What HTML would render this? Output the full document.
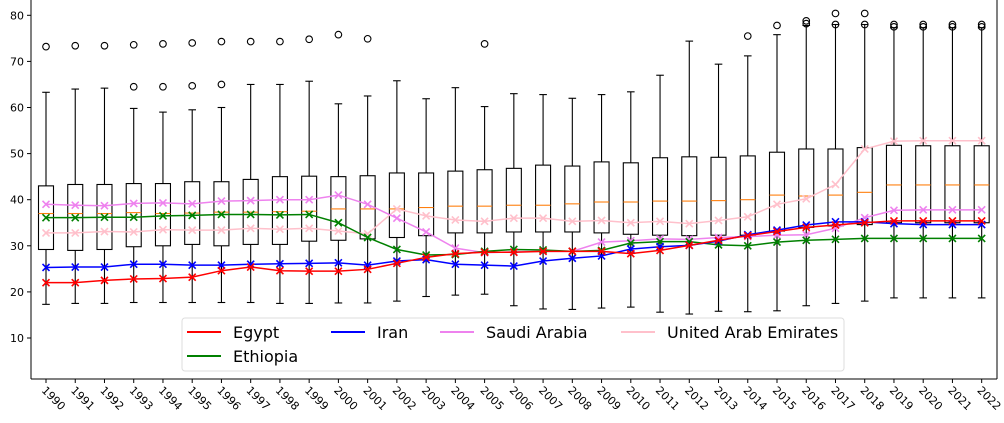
<!DOCTYPE html>
<html><head><meta charset="utf-8"><style>
html,body{margin:0;padding:0;background:#fff;}
svg{display:block;font-family:"DejaVu Sans","Liberation Sans",sans-serif;}
</style></head><body>
<svg id="chart" width="1004" height="423" viewBox="0 0 1004 423"></svg>
<script>
const years=[1990,1991,1992,1993,1994,1995,1996,1997,1998,1999,2000,2001,2002,2003,2004,2005,2006,2007,2008,2009,2010,2011,2012,2013,2014,2015,2016,2017,2018,2019,2020,2021,2022];
const boxQ1=[29.2,29,29.2,29.8,30,30.3,30,30.3,30.3,31,31.2,31.5,31.8,32.2,32.8,32.8,33,33,33,32.8,32.5,32.3,32.2,32.3,32.3,33.2,34,34.3,34.6,35,35,35,35];
const boxMed=[37,37,37,37.2,37,37.1,37.3,37.3,37.4,37.5,38,38,38,38.3,38.6,38.6,38.8,38.8,39.1,39.5,39.5,39.7,39.7,39.8,40,41,40.8,41,41.6,43.2,43.2,43.2,43.2];
const boxQ3=[43,43.3,43.3,43.5,43.5,43.9,43.9,44.4,45,45.1,45,45.2,45.8,45.8,46.2,46.5,46.8,47.5,47.3,48.2,48,49.1,49.3,49.2,49.5,50.3,51,51,51.3,51.8,51.7,51.7,51.7];
const boxLo=[17.3,17.5,17.5,17.7,17.7,17.7,17.7,17.7,17.5,17.5,17.6,17.6,18,19,19.3,19.5,17,16.3,16.2,16.5,16.7,15.6,15.2,15.8,15.7,15.9,17,17.5,18,18.7,18.7,18.7,18.7];
const boxHi=[63.3,64,64.2,59.8,59,59.5,60,65,65,65.7,60.8,62.5,65.8,61.9,64.3,60.2,63,62.8,62,62.8,63.4,67,74.4,69.4,71.2,75.8,77.8,78,78,77.3,77.3,77.3,77.3];
const outliers=[[73.2],[73.4],[73.4],[64.5,73.6],[64.5,73.8],[64.7,74],[65,74.3],[74.3],[74.3],[74.8],[75.8],[74.9],[],[],[],[73.8],[],[],[],[],[],[],[],[],[75.5],[77.8],[78.2,78.8],[78,80.4],[78,80.4],[77.5,78],[77.5,78],[77.5,78],[77.5,78]];
const egypt=[22,22,22.5,22.8,22.9,23.2,24.6,25.4,24.6,24.5,24.5,24.9,26.2,27.5,28.3,28.6,28.6,28.8,28.8,28.8,28.3,29,30.1,31.2,32.2,33.1,34,34.5,35,35.4,35.4,35.4,35.4];
const iran=[25.3,25.4,25.4,26,26,25.8,25.8,26,26.1,26.2,26.3,25.8,26.7,27,26,25.8,25.6,26.7,27.3,27.8,29.3,29.8,30.1,31,32.4,33.4,34.5,35.2,35.2,34.8,34.6,34.6,34.6];
const ethiopia=[36.1,36.1,36.2,36.2,36.5,36.6,36.8,36.8,36.7,36.8,35,31.8,29.2,28,28.1,28.8,29.2,29.1,28.8,29,30.6,30.9,30.9,30.2,30,30.8,31.2,31.4,31.6,31.6,31.6,31.6,31.6];
const saudi=[39,38.8,38.7,39.2,39.3,39.1,39.7,39.8,40,40,41,39,36,33,29.5,28.5,28.7,28.8,28.8,30.8,31.1,31.5,31.4,31.8,32,32.3,32.4,33.8,36.1,37.7,37.8,37.8,37.8];
const uae=[32.8,32.8,33.1,33,33.5,33.4,33.4,33.8,33.6,33.8,33.2,32.6,38,36.5,35.6,35.3,36,36,35.3,35.5,35,35.3,34.8,35.5,36.3,39,40.2,43.3,51,52.7,52.8,52.8,52.8];
const yTicks=[10,20,30,40,50,60,70,80];

const NS="http://www.w3.org/2000/svg";
const svg=document.getElementById('chart');
const L=31,R=997,T=0,B=379;
function xs(i){return 46+i*29.24;}
function ys(v){return 338-(v-10)*4.61;}
function mk(tag,attrs,parent){const e=document.createElementNS(NS,tag);for(const k in attrs)e.setAttribute(k,attrs[k]);(parent||svg).appendChild(e);return e;}

// boxes
const gBox=mk('g',{});


years.forEach((y,i)=>{
  const x=xs(i),hw=7.5,cw=3.8;
  const g=mk('g',{stroke:'#000','stroke-width':1.1,fill:'none'},gBox);
  
  
  mk('rect',{x:x-hw,y:ys(boxQ3[i]),width:2*hw,height:ys(boxQ1[i])-ys(boxQ3[i])},g);
  mk('line',{x1:x,x2:x,y1:ys(boxQ3[i]),y2:ys(boxHi[i])},g);
  mk('line',{x1:x,x2:x,y1:ys(boxQ1[i]),y2:ys(boxLo[i])},g);
  mk('line',{x1:x-cw,x2:x+cw,y1:ys(boxHi[i]),y2:ys(boxHi[i])},g);
  mk('line',{x1:x-cw,x2:x+cw,y1:ys(boxLo[i]),y2:ys(boxLo[i])},g);
  mk('line',{x1:x-hw,x2:x+hw,y1:ys(boxMed[i]),y2:ys(boxMed[i]),stroke:'#ff7f0e'},g);
  outliers[i].forEach(v=>{
    const c=mk('circle',{cx:x,cy:ys(v),r:3.3},g);
    
    
  });
});

// series
const series=[
  {name:'egypt',label:'Egypt',data:egypt,color:'#ff0000'},
  {name:'iran',label:'Iran',data:iran,color:'#0000ff'},
  {name:'saudi-arabia',label:'Saudi Arabia',data:saudi,color:'#ee82ee'},
  {name:'uae',label:'United Arab Emirates',data:uae,color:'#ffc0cb'},
  {name:'ethiopia',label:'Ethiopia',data:ethiopia,color:'#008000'}
];
const order=['uae','saudi-arabia','ethiopia','iran','egypt'];
order.forEach(n=>{
  const s=series.find(q=>q.name===n);
  const g=mk('g',{stroke:s.color,fill:'none','stroke-width':1.5});
  
  
  const p=mk('polyline',{points:s.data.map((v,i)=>xs(i)+','+ys(v)).join(' ')},g);
  
  
  s.data.forEach((v,i)=>{
    const x=xs(i),y=ys(v),d=3.5;
    const m=mk('path',{d:`M${x-d},${y-d}L${x+d},${y+d}M${x-d},${y+d}L${x+d},${y-d}`,'stroke-width':1.6},g);
    
    
  });
});

// axes
const ax=mk('g',{stroke:'#000','stroke-width':1});


mk('line',{x1:L,x2:L,y1:T,y2:B},ax);
mk('line',{x1:L,x2:R,y1:B,y2:B},ax);
mk('line',{x1:R,x2:R,y1:T,y2:B},ax);
yTicks.forEach(v=>{
  mk('line',{x1:L-4,x2:L,y1:ys(v),y2:ys(v)},ax);
  const t=mk('text',{x:L-7,y:ys(v)+4,'text-anchor':'end','font-size':11,fill:'#000',stroke:'none'});
  t.textContent=v;
  
  
});
years.forEach((y,i)=>{
  const x=xs(i);
  mk('line',{x1:x,x2:x,y1:B,y2:B+4},ax);
  const t=mk('text',{x:x-5,y:B+12,'font-size':11,fill:'#000',stroke:'none',transform:`rotate(45 ${x-5} ${B+12})`});
  t.textContent=y;
  
  
});

// legend
const lg=mk('g',{});


mk('rect',{x:182,y:318,width:662,height:53,rx:3,fill:'#fff','fill-opacity':0.85,stroke:'#ddd'},lg);
const lpos=[
  {n:'egypt',x:187,y:332},{n:'iran',x:331,y:332},{n:'saudi-arabia',x:440,y:332},{n:'uae',x:621,y:332},{n:'ethiopia',x:187,y:356}
];
lpos.forEach(p=>{
  const s=series.find(q=>q.name===p.n);
  const e=mk('g',{},lg);
  
  
  mk('line',{x1:p.x,x2:p.x+34,y1:p.y,y2:p.y,stroke:s.color,'stroke-width':2},e);
  const t=mk('text',{x:p.x+46,y:p.y+6,'font-size':16,fill:'#000'},e);
  t.textContent=s.label;
});
</script>
</body></html>
